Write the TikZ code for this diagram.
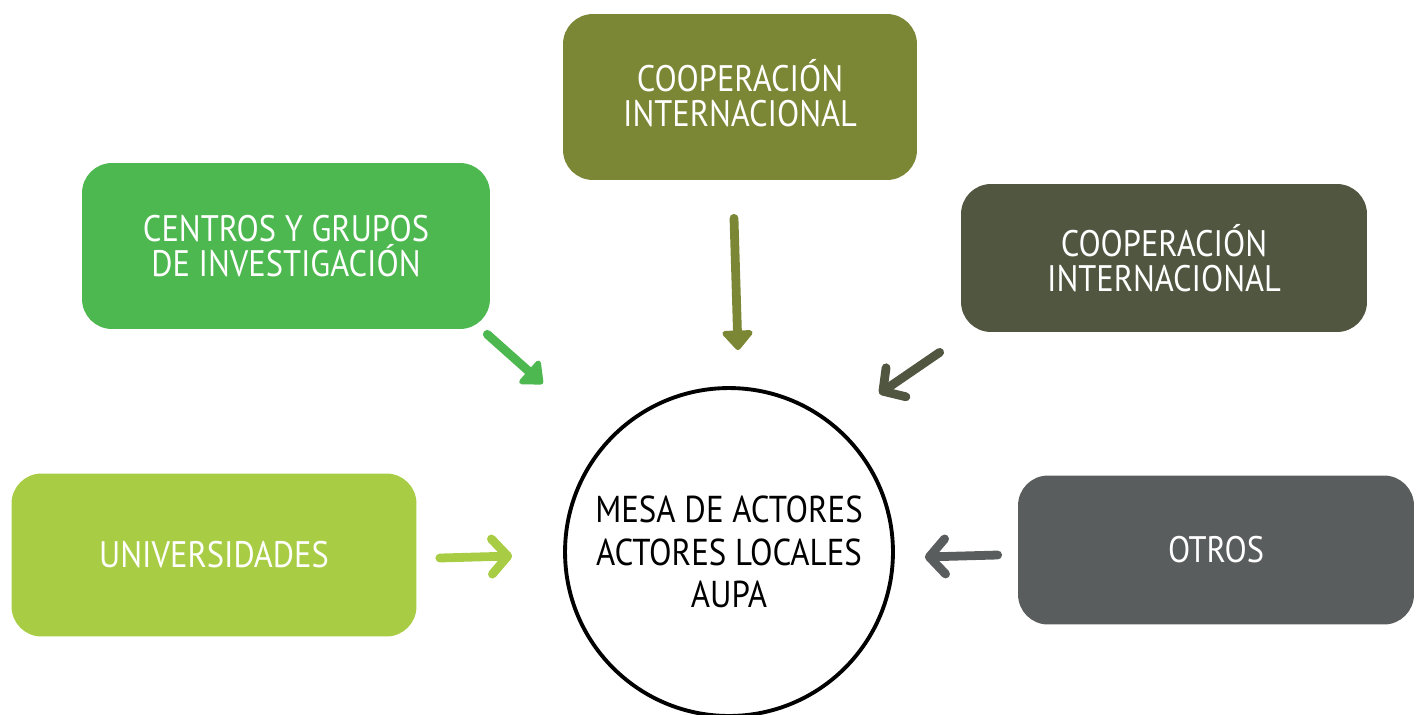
\documentclass[tikz,border=0pt]{standalone}
\usepackage{fontspec}
\setmainfont{PT Sans}[FakeStretch=0.88]
\usetikzlibrary{arrows.meta, calc}

\definecolor{coopolive}{HTML}{7B8735}
\definecolor{centrosgreen}{HTML}{4DB84F}
\definecolor{coopdark}{HTML}{515641}
\definecolor{univgreen}{HTML}{A8CD45}
\definecolor{otrosgray}{HTML}{5A5D5D}

\begin{document}
\begin{tikzpicture}[
    x=0.02cm, y=-0.02cm,
    box/.style={rectangle, rounded corners=0.6cm, text=white, align=center, inner sep=0pt, font=\fontsize{21}{20}\selectfont},
    hub/.style={circle, draw, line width=2.2pt, minimum size=6.56cm, align=center, inner sep=0pt, font=\fontsize{21.3}{24}\selectfont},
    arrow/.style={-{Straight Barb[length=9pt, width=20pt, round]}, line width=5pt, line cap=round},
    fatarrow/.style={-{Triangle[length=12pt, width=20pt, round]}, line width=5pt, line cap=round}
]
    \useasboundingbox (0,0) rectangle (1416,714);

    % Centre
    \node[hub] (mesa) at (729,552) {MESA DE ACTORES\\ACTORES LOCALES\\AUPA};

    % Actors
    \node[box, fill=coopolive, minimum width=7.08cm, minimum height=3.32cm] (coop) at (740,97) {COOPERACIÓN\\INTERNACIONAL\vphantom{p}};
    \node[box, fill=centrosgreen, minimum width=8.16cm, minimum height=3.32cm] (centros) at (286,246) {CENTROS Y GRUPOS\\DE INVESTIGACIÓN};
    \node[box, fill=coopdark, minimum width=8.12cm, minimum height=2.96cm] (cooprt) at (1164,258) {COOPERACIÓN\\INTERNACIONAL};
    \node[box, fill=univgreen, minimum width=8.1cm, minimum height=3.26cm] (univ) at (214,555) {UNIVERSIDADES};
    \node[box, fill=otrosgray, minimum width=7.92cm, minimum height=2.98cm] (otros) at (1216,550) {OTROS};

    % Arrows
    \draw[fatarrow, coopolive] ($(coop.south)+(-6,38)$) -- ($(mesa.north)+(9,-36)$);
    \draw[fatarrow, centrosgreen] ($(centros.south east)+(-3,5)$) -- ($(mesa.north west)+(-69,-51)$);
    \draw[arrow, coopdark] ($(cooprt.south west)+(-21,20)$) -- ($(mesa.north east)+(33,-41)$);
    \draw[arrow, univgreen] ($(univ.east)+(23,3)$) -- ($(mesa.west)+(-51,4)$);
    \draw[arrow, otrosgray] ($(otros.west)+(-20,5)$) -- ($(mesa.east)+(30,5)$);

\end{tikzpicture}
\end{document}
